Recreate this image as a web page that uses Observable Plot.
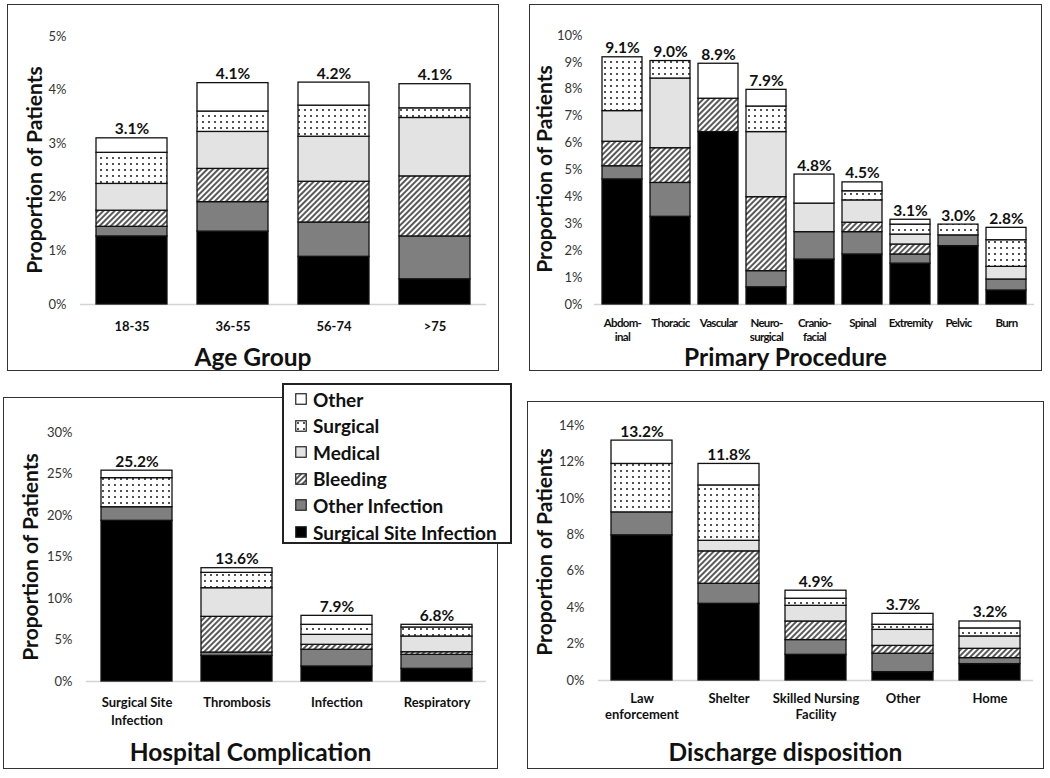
<!DOCTYPE html>
<html><head><meta charset="utf-8">
<script src="https://cdn.jsdelivr.net/npm/d3@7"></script>
<script src="https://cdn.jsdelivr.net/npm/@observablehq/plot@0.6"></script>
<style>
body{margin:0;background:#fff;width:1050px;height:778px;position:relative;overflow:hidden;font-family:Lato,sans-serif;color:#111;}
.panel{position:absolute;border:1.5px solid #333;box-sizing:border-box;background:#fff;}
.panel svg{position:absolute;left:0;top:0;overflow:visible;}
.ylab{position:absolute;font-weight:700;font-size:21px;white-space:nowrap;transform:translate(-50%,-50%) rotate(-90deg);}
.title{position:absolute;left:0;right:0;text-align:center;font-weight:700;font-size:24.5px;line-height:1;transform:translateY(-50%);}
#p2 [aria-label="x-axis tick label"] text{letter-spacing:-0.7px;}
.legend{position:absolute;left:282px;top:383px;width:230px;height:161px;border:2px solid #222;box-sizing:border-box;background:#fff;}
.legend .item{position:absolute;left:11px;height:24px;display:flex;align-items:center;font-weight:700;font-size:19px;white-space:nowrap;}
.legend svg{margin-right:6px;}
</style>
</head><body>
<svg width="0" height="0" style="position:absolute">
 <defs>
  <pattern id="dots" patternUnits="userSpaceOnUse" width="6" height="6">
   <rect width="6" height="6" fill="#fff"/>
   <circle cx="3" cy="3" r="0.9" fill="#000"/>
  </pattern>
  <pattern id="hatch" patternUnits="userSpaceOnUse" width="4" height="4" patternTransform="rotate(45)">
   <rect width="4" height="4" fill="#fff"/>
   <line x1="1" y1="0" x2="1" y2="4" stroke="#000" stroke-width="1.3"/>
  </pattern>
 </defs>
</svg>
<script>
// ---------- data ----------
const series = ["Surgical Site Infection", "Other Infection", "Bleeding", "Medical", "Surgical", "Other"];

// Age Group
const ageCats   = ["18-35", "36-55", "56-74", ">75"];
const ageSSI    = [1.27, 1.36, 0.89, 0.47];
const ageOI     = [0.18, 0.55, 0.64, 0.80];
const ageBleed  = [0.30, 0.62, 0.76, 1.12];
const ageMed    = [0.50, 0.69, 0.84, 1.09];
const ageSurg   = [0.58, 0.38, 0.58, 0.18];
const ageOther  = [0.27, 0.53, 0.43, 0.45];
const ageTotals = [3.1, 4.1, 4.2, 4.1];

// Primary Procedure
const procCats   = ["Abdom-\ninal", "Thoracic", "Vascular", "Neuro-\nsurgical", "Cranio-\nfacial", "Spinal", "Extremity", "Pelvic", "Burn"];
const procSSI    = [4.65, 3.26, 6.41, 0.64, 1.67, 1.86, 1.52, 2.17, 0.52];
const procOI     = [0.49, 1.26, 0.00, 0.60, 1.02, 0.83, 0.34, 0.40, 0.41];
const procBleed  = [0.91, 1.29, 1.24, 2.75, 0.00, 0.35, 0.37, 0.00, 0.00];
const procMed    = [1.14, 2.59, 0.00, 2.42, 1.06, 0.83, 0.37, 0.00, 0.47];
const procSurg   = [2.00, 0.65, 0.00, 0.95, 0.00, 0.34, 0.37, 0.40, 0.99];
const procOther  = [0.00, 0.00, 1.30, 0.62, 1.08, 0.33, 0.18, 0.00, 0.46];
const procTotals = [9.1, 9.0, 8.9, 7.9, 4.8, 4.5, 3.1, 3.0, 2.8];

// Hospital Complication
const compCats   = ["Surgical Site\nInfection", "Thrombosis", "Infection", "Respiratory"];
const compSSI    = [19.36, 3.09, 1.81, 1.53];
const compOI     = [1.64, 0.40, 2.01, 1.68];
const compBleed  = [0.00, 4.30, 0.60, 0.32];
const compMed    = [0.00, 3.45, 1.20, 1.89];
const compSurg   = [3.50, 1.85, 1.21, 1.09];
const compOther  = [0.90, 0.56, 1.08, 0.32];
const compTotals = [25.2, 13.6, 7.9, 6.8];

// Discharge disposition
const discCats   = ["Law\nenforcement", "Shelter", "Skilled Nursing\nFacility", "Other", "Home"];
const discSSI    = [7.97, 4.21, 1.41, 0.46, 0.90];
const discOI     = [1.26, 1.10, 0.81, 1.01, 0.33];
const discBleed  = [0.00, 1.78, 1.02, 0.43, 0.51];
const discMed    = [0.00, 0.58, 0.86, 0.88, 0.68];
const discSurg   = [2.66, 3.04, 0.39, 0.28, 0.44];
const discOther  = [1.28, 1.18, 0.44, 0.60, 0.38];
const discTotals = [13.2, 11.8, 4.9, 3.7, 3.2];

const ageTicks  = [0, 1, 2, 3, 4, 5];
const procTicks = [0, 1, 2, 3, 4, 5, 6, 7, 8, 9, 10];
const compTicks = [0, 5, 10, 15, 20, 25, 30];
const discTicks = [0, 2, 4, 6, 8, 10, 12, 14];

const legendOrder = ["Other", "Surgical", "Medical", "Bleeding", "Other Infection", "Surgical Site Infection"];

// ---------- styling ----------
const fillOf = {
  "Surgical Site Infection": "#000000",
  "Other Infection": "#7f7f7f",
  "Bleeding": "url(#hatch)",
  "Medical": "#e3e3e3",
  "Surgical": "url(#dots)",
  "Other": "#ffffff"
};

function makePanel(o) {
  const panel = document.createElement("div");
  panel.className = "panel";
  panel.id = o.id;
  Object.assign(panel.style, {left: o.left + "px", top: o.top + "px", width: o.w + "px", height: o.h + "px"});
  const rows = [];
  series.forEach((s, i) => o.cats.forEach((c, j) => {
    const v = o.values[i][j];
    if (v > 0) rows.push({cat: c, s, v});
  }));
  const tops = o.cats.map((c, j) => ({cat: c, top: d3.sum(o.values, arr => arr[j]), label: o.totals[j]}));
  const chart = Plot.plot({
    width: o.w - 3,
    height: o.svgH,
    marginLeft: o.ml, marginRight: o.mr, marginTop: o.mt, marginBottom: o.svgH - o.zeroY,
    x: {domain: o.cats, paddingInner: o.pi, paddingOuter: o.po, label: null},
    y: {domain: [0, o.yMax], label: null},
    color: {type: "identity"},
    style: {fontFamily: "Lato, sans-serif", background: "transparent", color: "#111"},
    marks: [
      Plot.axisY({ticks: o.ticks, tickSize: 0, tickPadding: o.ytp, tickFormat: d => d + "%", fontSize: 13, fill: "#333", label: null}),
      Plot.ruleY([0], {stroke: "#d4d4d4", strokeWidth: 1.5}),
      Plot.barY(rows, {x: "cat", y: "v", z: "s", fill: d => fillOf[d.s], stroke: "#111", strokeWidth: 1.3}),
      Plot.axisX({tickSize: 0, tickPadding: o.xtp, fontSize: o.xfs, fontWeight: 700, lineHeight: o.lh, label: null, fill: "#111"}),
      Plot.text(tops, {x: "cat", y: "top", text: d => d.label.toFixed(1) + "%", dy: -9, fontWeight: 700, fontSize: 15.5, fill: "#111"})
    ]
  });
  panel.appendChild(chart);
  const yl = document.createElement("div");
  yl.className = "ylab";
  yl.textContent = "Proportion of Patients";
  Object.assign(yl.style, {left: o.ylx + "px", top: o.yly + "px"});
  panel.appendChild(yl);
  const t = document.createElement("div");
  t.className = "title";
  t.textContent = o.title;
  t.style.top = o.ty + "px";
  panel.appendChild(t);
  document.body.appendChild(panel);
}

makePanel({id: "p1", left: 7, top: 4, w: 492, h: 367, svgH: 340, ml: 72, mr: 11, mt: 31, zeroY: 299,
  cats: ageCats, values: [ageSSI, ageOI, ageBleed, ageMed, ageSurg, ageOther], totals: ageTotals,
  yMax: 5, ticks: ageTicks, pi: 0.3, po: 0.15, ytp: 14, xtp: 14, xfs: 13, lh: 1.3,
  ylx: 25, yly: 165, title: "Age Group", ty: 352});

makePanel({id: "p2", left: 529, top: 4, w: 513, h: 367, svgH: 345, ml: 64, mr: 6, mt: 30, zeroY: 299,
  cats: procCats, values: [procSSI, procOI, procBleed, procMed, procSurg, procOther], totals: procTotals,
  yMax: 10, ticks: procTicks, pi: 0.16, po: 0.11, ytp: 12, xtp: 12, xfs: 11.5, lh: 1.25,
  ylx: 13, yly: 164, title: "Primary Procedure", ty: 352});

makePanel({id: "p3", left: 3, top: 397, w: 495, h: 372, svgH: 330, ml: 82, mr: 10, mt: 34, zeroY: 283,
  cats: compCats, values: [compSSI, compOI, compBleed, compMed, compSurg, compOther], totals: compTotals,
  yMax: 30, ticks: compTicks, pi: 0.29, po: 0.145, ytp: 14, xtp: 13, xfs: 13, lh: 1.35,
  ylx: 25, yly: 159, title: "Hospital Complication", ty: 354});

makePanel({id: "p4", left: 527, top: 401, w: 517, h: 368, svgH: 330, ml: 70, mr: 9, mt: 23, zeroY: 278,
  cats: discCats, values: [discSSI, discOI, discBleed, discMed, discSurg, discOther], totals: discTotals,
  yMax: 14, ticks: discTicks, pi: 0.3, po: 0.15, ytp: 14, xtp: 10, xfs: 13, lh: 1.3,
  ylx: 15, yly: 150, title: "Discharge disposition", ty: 350});

// legend
const leg = document.createElement("div");
leg.className = "legend";
legendOrder.forEach((s, i) => {
  const it = document.createElement("div");
  it.className = "item";
  it.style.top = (2 + i * 26.6) + "px";
  it.innerHTML = `<svg width="12" height="12"><rect x="0.75" y="0.75" width="10.5" height="10.5" fill="${fillOf[s]}" stroke="#222" stroke-width="1.2"/></svg>`;
  const sp = document.createElement("span");
  sp.textContent = s;
  it.appendChild(sp);
  leg.appendChild(it);
});
document.body.appendChild(leg);
</script>
</body></html>
